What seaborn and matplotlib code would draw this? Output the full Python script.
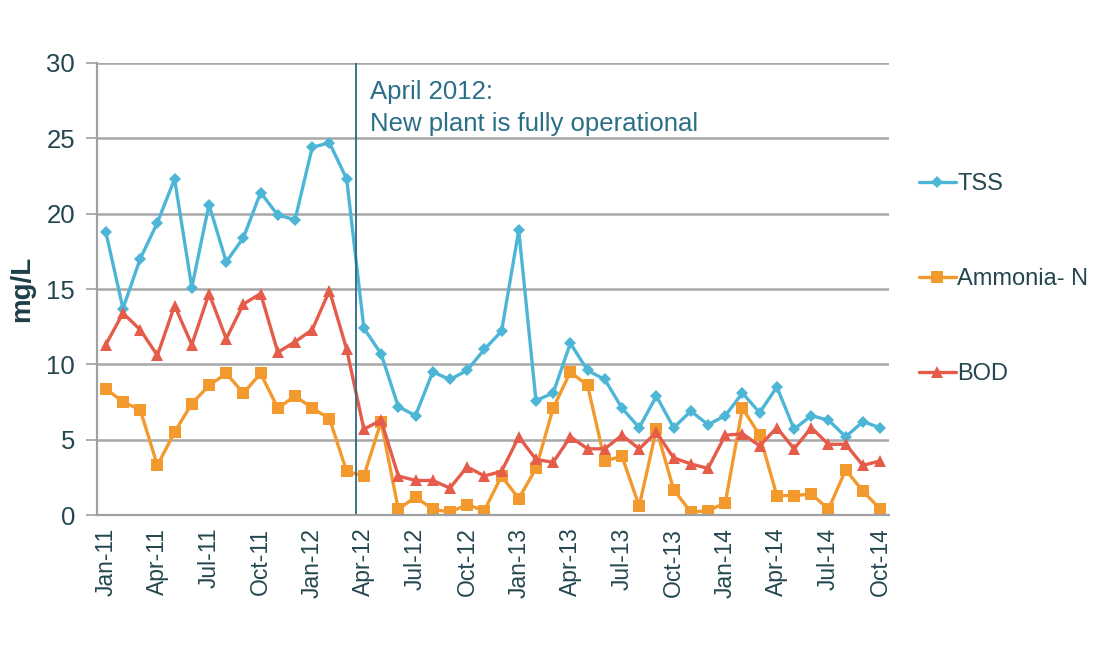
import pandas as pd
import numpy as np
import matplotlib
matplotlib.use("Agg")
import matplotlib.pyplot as plt
import seaborn as sns

# ---- data (mg/L, monthly Jan-11 .. Oct-14) ----
months = pd.date_range("2011-01-01", "2014-10-01", freq="MS").strftime("%b-%y").tolist()

tss = [18.8, 13.7, 17.0, 19.4, 22.3, 15.1, 20.6, 16.8, 18.4, 21.4, 19.9, 19.6,
       24.4, 24.7, 22.3, 12.4, 10.7, 7.2, 6.6, 9.5, 9.0, 9.6, 11.0, 12.2,
       18.9, 7.6, 8.1, 11.4, 9.6, 9.0, 7.1, 5.8, 7.9, 5.8, 6.9, 6.0,
       6.6, 8.1, 6.8, 8.5, 5.7, 6.6, 6.3, 5.2, 6.2, 5.8]

ammonia = [8.4, 7.5, 7.0, 3.3, 5.5, 7.4, 8.6, 9.4, 8.1, 9.4, 7.1, 7.9,
           7.1, 6.4, 2.9, 2.6, 6.2, 0.4, 1.2, 0.4, 0.2, 0.7, 0.3, 2.6,
           1.1, 3.1, 7.1, 9.5, 8.6, 3.6, 3.9, 0.6, 5.7, 1.7, 0.2, 0.3,
           0.8, 7.1, 5.3, 1.3, 1.3, 1.4, 0.4, 3.0, 1.6, 0.4]

bod = [11.3, 13.4, 12.3, 10.6, 13.9, 11.3, 14.7, 11.7, 14.0, 14.7, 10.8, 11.5,
       12.3, 14.9, 11.0, 5.7, 6.3, 2.6, 2.3, 2.3, 1.8, 3.2, 2.6, 2.9,
       5.2, 3.7, 3.5, 5.2, 4.4, 4.4, 5.3, 4.4, 5.5, 3.8, 3.4, 3.1,
       5.3, 5.4, 4.6, 5.8, 4.4, 5.8, 4.7, 4.7, 3.3, 3.6]

series_names = ["TSS", "Ammonia- N", "BOD"]
series_colors = {"TSS": "#4db6d6", "Ammonia- N": "#f29a2e", "BOD": "#e65c4a"}
series_markers = {"TSS": "D", "Ammonia- N": "s", "BOD": "^"}
series_msize = {"TSS": 6.5, "Ammonia- N": 8.5, "BOD": 8.5}

df = pd.DataFrame({"idx": np.arange(len(months)), "month": months,
                   "TSS": tss, "Ammonia- N": ammonia, "BOD": bod})
long_df = df.melt(id_vars=["idx", "month"], value_vars=series_names,
                  var_name="series", value_name="mg_L")

# ---- plot ----
sns.set_style("white")
plt.rcParams["font.family"] = ["Liberation Sans", "DejaVu Sans"]

fig = plt.figure(figsize=(11.04, 6.48), dpi=100)
ax = fig.add_axes([0.088, 0.205, 0.717, 0.698])

for name in series_names:
    sns.lineplot(data=long_df[long_df["series"] == name], x="idx", y="mg_L",
                 color=series_colors[name], marker=series_markers[name],
                 markersize=series_msize[name], markeredgewidth=0,
                 linewidth=2.4, label=name, ax=ax)

text_col = "#24474f"
ax.set_xlim(-0.5, len(months) - 0.5)
ax.set_ylim(0, 30)
ax.set_yticks(np.arange(0, 31, 5))
ax.yaxis.grid(True, color="#a8a8a8", linewidth=1.8)
ax.set_axisbelow(True)

label_pos = np.arange(0, len(months), 3)
ax.set_xticks(label_pos)
ax.set_xticklabels([months[i] for i in label_pos], rotation=90)
ax.set_xticks(np.arange(-0.5, len(months), 3), minor=True)
ax.tick_params(axis="x", which="major", length=0, pad=9, labelsize=16.5, labelcolor=text_col)
ax.tick_params(axis="x", which="minor", direction="inout", length=9, width=1.2, color="#a0a0a0")
ax.tick_params(axis="y", length=8, width=1.2, color="#a0a0a0", labelsize=18.5,
               labelcolor=text_col, pad=8, left=True)

for s in ["top", "right"]:
    ax.spines[s].set_visible(False)
for s in ["left", "bottom"]:
    ax.spines[s].set_color("#a0a0a0")
    ax.spines[s].set_linewidth(1.6)

ax.set_xlabel("")
ax.set_ylabel("mg/L", fontsize=20, fontweight="bold", color="#1d3d48")
ax.yaxis.set_label_coords(-0.078, 0.5)

# new plant marker
ax.axvline(14.55, ymin=0, ymax=1, color="#2a6a80", linewidth=1.3)
ax.text(15.35, 28.85, "April 2012:\nNew plant is fully operational",
        fontsize=18.5, color="#2a6f88", va="top", ha="left", linespacing=1.4)

ax.legend(loc="upper left", bbox_to_anchor=(0.832, 0.733), bbox_transform=fig.transFigure,
          frameon=False, fontsize=17, labelspacing=3.1, handlelength=1.6,
          handletextpad=0.05, borderaxespad=0, borderpad=0, labelcolor=text_col)

fig.savefig("out.png", dpi=100)
